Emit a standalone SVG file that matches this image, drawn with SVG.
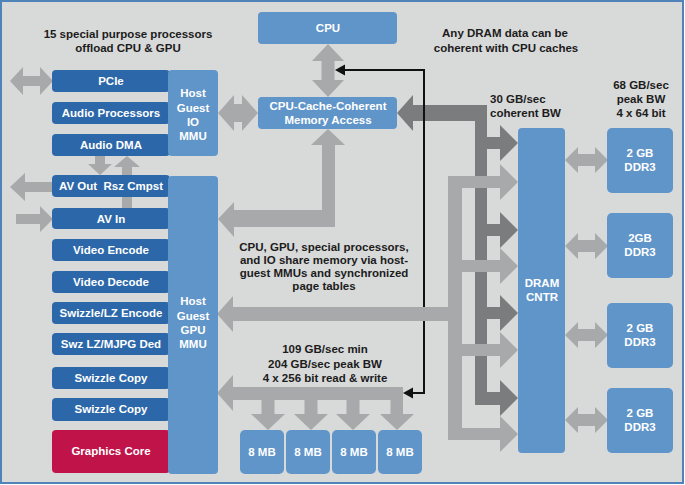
<svg xmlns="http://www.w3.org/2000/svg" width="685" height="485" viewBox="0 0 685 485">
<style>
.bg{fill:#d8d9d9;stroke:#4f83b9;stroke-width:2}
.db{fill:#2c68a9}
.lb{fill:#5f95c9}
.gc{fill:#c0134a}
.la{fill:#a7a9ab}
.da{fill:#7b7c7e}
text{font-family:"Liberation Sans",Arial,sans-serif;font-weight:bold;font-size:11.5px}
.w{fill:#ffffff;text-anchor:middle}
.k{fill:#1c1c1c;text-anchor:middle}
.ks{fill:#1c1c1c;text-anchor:start}
</style>
<rect class="bg" x="1" y="1" width="682" height="482"/>

<g id="connectors">
  <!-- left side IO arrows -->
  <polygon class="la" points="10,81 23,67 23,76 40,76 40,67 53,81 40,95 40,86 23,86 23,95"/>
  <polygon class="la" points="10,187 25,173 25,182 53,182 53,192 25,192 25,201"/>
  <polygon class="la" points="16,214 40,214 40,206 53,219 40,232 40,224 16,224"/>
  <polygon class="la" points="95,156 105,156 105,164 112,164 100,175 88,164 95,164"/>
  <polygon class="la" points="127,156 140,167 132,167 132,208 122,208 122,167 114,167"/>
  <!-- IO MMU <-> CPU-Cache-Coherent -->
  <polygon class="la" points="218,113 234,95 234,104 242,104 242,95 258,113 242,131 242,122 234,122 234,131"/>
  <!-- CPU <-> CPU-Cache-Coherent -->
  <polygon class="la" points="328,44 344,61 334.5,61 334.5,80 344,80 328,97 312,80 321.5,80 321.5,61 312,61"/>
  <!-- GPU MMU <-> CPU-Cache-Coherent -->
  <polygon class="la" points="218,219 234,202 234,210 322,210 322,145 311,145 328,129 345,145 335,145 335,227 234,227 234,237"/>
  <!-- dark coherent bus -->
  <polygon class="da" points="397,113 413,95 413,105 487,105 487,392 500,392 500,380 518,398 500,416 500,405 475,405 475,121 413,121 413,131"/>
  <polygon class="da" points="487,137 500,137 500,125 518,143 500,161 500,149 487,149"/>
  <polygon class="da" points="487,224 500,224 500,212 518,230 500,248 500,236 487,236"/>
  <polygon class="da" points="487,307 500,307 500,295 518,313 500,331 500,319 487,319"/>
  <!-- black coherence line -->
  <path d="M343,70 H424 V393 H411" fill="none" stroke="#111111" stroke-width="2"/>
  <polygon fill="#111111" points="335,70 345,64.5 345,75.5"/>
  <polygon fill="#111111" points="403,393 413,387.5 413,398.5"/>
  <!-- light non-coherent bus -->
  <polygon class="la" points="448,176 500,176 500,164 518,182 500,200 500,188 462,188 462,428 500,428 500,416 518,434 500,452 500,440 448,440"/>
  <polygon class="la" points="462,260 500,260 500,248 518,266 500,284 500,272 462,272"/>
  <polygon class="la" points="462,344 500,344 500,332 518,350 500,368 500,356 462,356"/>
  <polygon class="la" points="217,314 233,296 233,307 455,307 455,321 233,321 233,332"/>
  <!-- ESRAM bus -->
  <polygon class="la" points="217,393 233,375 233,387 403,387 403,400 233,400 233,411"/>
  <polygon class="la" points="261.5,399 274.5,399 274.5,414 285,414 268,430 251,414 261.5,414"/>
  <polygon class="la" points="304.5,399 317.5,399 317.5,414 328,414 311,430 294,414 304.5,414"/>
  <polygon class="la" points="346.5,399 359.5,399 359.5,414 370,414 353,430 336,414 346.5,414"/>
  <polygon class="la" points="390.5,399 403,399 403,414 414,414 397,430 380,414 390.5,414"/>
  <!-- DRAM <-> DDR3 -->
  <polygon class="la" points="565,160 578,147 578,154 595,154 595,147 608,160 595,173 595,166 578,166 578,173"/>
  <polygon class="la" points="565,246 578,233 578,240 595,240 595,233 608,246 595,259 595,252 578,252 578,259"/>
  <polygon class="la" points="565,335 578,322 578,329 595,329 595,322 608,335 595,348 595,341 578,341 578,348"/>
  <polygon class="la" points="565,420 578,407 578,414 595,414 595,407 608,420 595,433 595,426 578,426 578,433"/>
</g>

<g id="labels">
  <text class="k" x="128" y="38">15 special purpose processors</text>
  <text class="k" x="128" y="52">offload CPU &amp; GPU</text>
  <text class="k" x="505" y="37">Any DRAM data can be</text>
  <text class="k" x="506" y="52">coherent with CPU caches</text>
  <text class="ks" x="490" y="103">30 GB/sec</text>
  <text class="ks" x="490" y="117">coherent BW</text>
  <text class="k" x="641" y="89">68 GB/sec</text>
  <text class="k" x="641" y="103">peak BW</text>
  <text class="k" x="641" y="117">4 x 64 bit</text>
  <text class="k" x="324" y="251">CPU, GPU, special processors,</text>
  <text class="k" x="324" y="264">and IO share memory via host-</text>
  <text class="k" x="324" y="277">guest MMUs and  synchronized</text>
  <text class="k" x="324" y="290">page  tables</text>
  <text class="k" x="325" y="353">109 GB/sec min</text>
  <text class="k" x="325" y="367.5">204 GB/sec peak BW</text>
  <text class="k" x="325" y="382">4 x 256 bit read &amp; write</text>
</g>

<g id="pcie"><rect class="db" x="52" y="70" width="118" height="22" rx="4"/><text class="w" x="111" y="85">PCIe</text></g>
<g id="audio-processors"><rect class="db" x="52" y="102" width="118" height="22" rx="4"/><text class="w" x="111" y="117">Audio Processors</text></g>
<g id="audio-dma"><rect class="db" x="52" y="134" width="118" height="22" rx="4"/><text class="w" x="111" y="149">Audio DMA</text></g>
<g id="av-out"><rect class="db" x="52" y="175" width="118" height="22" rx="4"/><text class="w" x="111" y="190" xml:space="preserve">AV Out  Rsz Cmpst</text></g>
<g id="av-in"><rect class="db" x="52" y="208" width="118" height="21" rx="4"/><text class="w" x="111" y="223">AV In</text></g>
<g id="video-encode"><rect class="db" x="52" y="239" width="118" height="22" rx="4"/><text class="w" x="111" y="254">Video Encode</text></g>
<g id="video-decode"><rect class="db" x="52" y="271" width="118" height="22" rx="4"/><text class="w" x="111" y="286">Video Decode</text></g>
<g id="swizzle-lz-encode"><rect class="db" x="52" y="302" width="118" height="22" rx="4"/><text class="w" x="111" y="317">Swizzle/LZ Encode</text></g>
<g id="swz-lz-mjpg"><rect class="db" x="52" y="333" width="118" height="22" rx="4"/><text class="w" x="111" y="348">Swz LZ/MJPG Ded</text></g>
<g id="swizzle-copy-1"><rect class="db" x="52" y="367" width="118" height="22" rx="4"/><text class="w" x="111" y="382">Swizzle Copy</text></g>
<g id="swizzle-copy-2"><rect class="db" x="52" y="398" width="118" height="23" rx="4"/><text class="w" x="111" y="413">Swizzle Copy</text></g>
<g id="graphics-core"><rect class="gc" x="52" y="430" width="118" height="43" rx="4"/><text class="w" x="111" y="455">Graphics Core</text></g>

<g id="io-mmu"><rect class="lb" x="168" y="70" width="50" height="86" rx="4"/>
  <text class="w" x="193" y="97">Host</text><text class="w" x="193" y="111.5">Guest</text><text class="w" x="193" y="126">IO</text><text class="w" x="193" y="140">MMU</text></g>
<g id="gpu-mmu"><rect class="lb" x="168" y="176" width="50" height="298" rx="4"/>
  <text class="w" x="193" y="305">Host</text><text class="w" x="193" y="320">Guest</text><text class="w" x="193" y="334">GPU</text><text class="w" x="193" y="348">MMU</text></g>
<g id="cpu"><rect class="lb" x="258" y="12" width="139" height="32" rx="4"/><text class="w" x="328" y="32">CPU</text></g>
<g id="cpu-cache-coherent"><rect class="lb" x="258" y="97" width="139" height="32" rx="4"/>
  <text class="w" x="328" y="110">CPU-Cache-Coherent</text><text class="w" x="328" y="124">Memory Access</text></g>
<g id="dram-cntr"><rect class="lb" x="518" y="128" width="47" height="325" rx="4"/>
  <text class="w" x="542" y="287">DRAM</text><text class="w" x="542" y="301">CNTR</text></g>
<g id="ddr3-1"><rect class="lb" x="607" y="128" width="66" height="65" rx="5"/><text class="w" x="640" y="157">2 GB</text><text class="w" x="640" y="171">DDR3</text></g>
<g id="ddr3-2"><rect class="lb" x="607" y="213" width="66" height="65" rx="5"/><text class="w" x="640" y="242">2GB</text><text class="w" x="640" y="256">DDR3</text></g>
<g id="ddr3-3"><rect class="lb" x="607" y="303" width="66" height="65" rx="5"/><text class="w" x="640" y="332">2 GB</text><text class="w" x="640" y="346">DDR3</text></g>
<g id="ddr3-4"><rect class="lb" x="607" y="388" width="66" height="65" rx="5"/><text class="w" x="640" y="417">2 GB</text><text class="w" x="640" y="431">DDR3</text></g>
<g id="esram-1"><rect class="lb" x="240" y="430" width="44" height="44" rx="5"/><text class="w" x="262" y="456">8 MB</text></g>
<g id="esram-2"><rect class="lb" x="286" y="430" width="44" height="44" rx="5"/><text class="w" x="308" y="456">8 MB</text></g>
<g id="esram-3"><rect class="lb" x="332" y="430" width="44" height="44" rx="5"/><text class="w" x="354" y="456">8 MB</text></g>
<g id="esram-4"><rect class="lb" x="378" y="430" width="44" height="44" rx="5"/><text class="w" x="400" y="456">8 MB</text></g>
</svg>
